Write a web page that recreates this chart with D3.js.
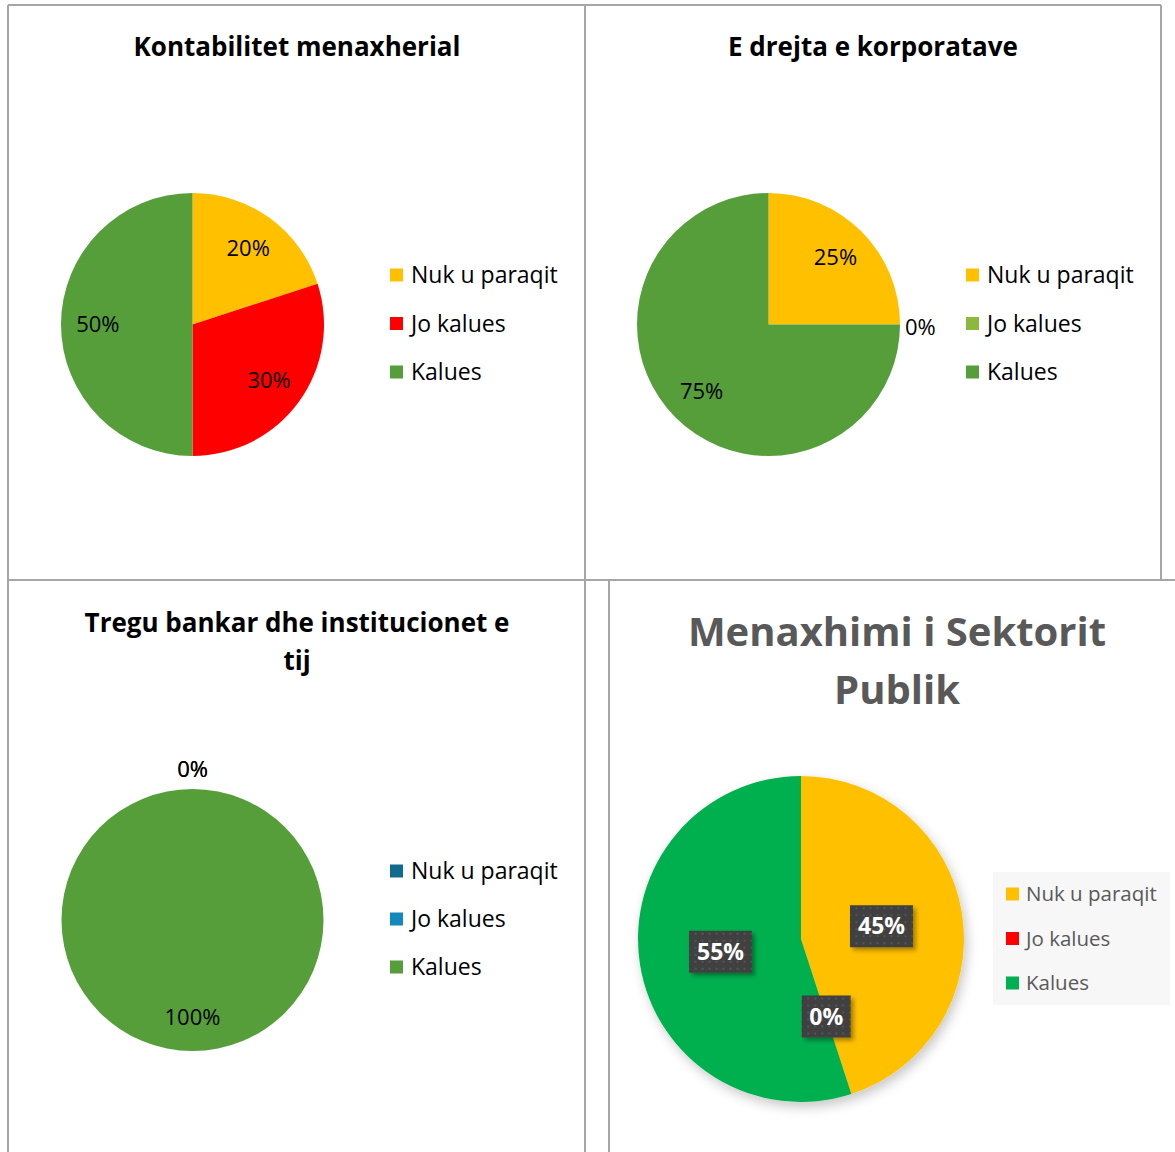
<!DOCTYPE html>
<html>
<head>
<meta charset="utf-8">
<script src="https://cdn.jsdelivr.net/npm/d3@7"></script>
<style>
  body { margin: 0; background: #fff; }
  svg text { font-family: "Open Sans", "Noto Sans", sans-serif; }
</style>
</head>
<body>
<svg id="chart" width="1175" height="1152"></svg>
<script>
// categories shared by all four pies
const categories = ["Nuk u paraqit", "Jo kalues", "Kalues"];

// values (percent) for each subject
const kontabilitetValues = [20, 30, 50];
const drejtaValues = [25, 0, 75];
const treguValues = [0, 0, 100];
const menaxhimiValues = [45, 0, 55];

// titles
const titles = [
  ["Kontabilitet menaxherial"],
  ["E drejta e korporatave"],
  ["Tregu bankar dhe institucionet e", "tij"],
  ["Menaxhimi i Sektorit", "Publik"]
];

const svg = d3.select("#chart");
const defs = svg.append("defs");

// soft shadow for the last pie
const sh = defs.append("filter").attr("id", "pieShadow")
  .attr("x", "-20%").attr("y", "-20%").attr("width", "140%").attr("height", "140%");
sh.append("feDropShadow").attr("dx", 3).attr("dy", 5).attr("stdDeviation", 6)
  .attr("flood-color", "#000").attr("flood-opacity", 0.22);

const bs = defs.append("filter").attr("id", "boxShadow")
  .attr("x", "-30%").attr("y", "-30%").attr("width", "160%").attr("height", "160%");
bs.append("feDropShadow").attr("dx", 3).attr("dy", 3).attr("stdDeviation", 2)
  .attr("flood-color", "#000").attr("flood-opacity", 0.35);

// dotted texture on the label boxes
const pat = defs.append("pattern").attr("id", "dots")
  .attr("width", 7).attr("height", 7).attr("patternUnits", "userSpaceOnUse");
pat.append("rect").attr("width", 7).attr("height", 7).attr("fill", "#404040");
pat.append("rect").attr("x", 2).attr("y", 2).attr("width", 2).attr("height", 2).attr("fill", "#555");

// panel borders
const lines = [
  [8, 5, 1161, 5], [8, 5, 8, 1152], [585, 5, 585, 1152], [1161, 5, 1161, 580],
  [8, 580, 1175, 580], [609, 581, 609, 1152]
];
svg.append("g").selectAll("line").data(lines).join("line")
  .attr("x1", d => d[0]).attr("y1", d => d[1]).attr("x2", d => d[2]).attr("y2", d => d[3])
  .attr("stroke", "#a6a6a6").attr("stroke-width", 2);

const pie = d3.pie().sort(null).value(d => d);

function drawPie(o) {
  const g = svg.append("g");
  const color = d3.scaleOrdinal().domain(categories).range(o.colors);

  // title
  g.append("text")
    .attr("x", o.tx).attr("y", o.ty)
    .attr("text-anchor", "middle")
    .attr("font-size", o.titleSize).attr("font-weight", "bold")
    .attr("fill", o.titleColor)
    .selectAll("tspan").data(o.title).join("tspan")
    .attr("x", o.tx).attr("dy", (d, i) => i === 0 ? 0 : o.titleGap)
    .text(d => d);

  const arcs = pie(o.values);
  const arc = d3.arc().innerRadius(0).outerRadius(o.r);
  const labelArc = d3.arc().innerRadius(o.r * o.labelK).outerRadius(o.r * o.labelK);

  const pg = g.append("g").attr("transform", `translate(${o.cx},${o.cy})`);
  const slices = pg.append("g");
  if (o.shadow) slices.attr("filter", "url(#pieShadow)");
  slices.selectAll("path").data(arcs).join("path")
    .attr("d", arc)
    .attr("fill", (d, i) => color(categories[i]));

  // data labels
  arcs.forEach((d, i) => {
    const txt = d.data + "%";
    if (o.boxed) {
      const [x, y] = labelArc.centroid(d);
      const w = txt.length > 2 ? 63 : 49;
      const lg = pg.append("g").attr("transform", `translate(${x},${y})`);
      lg.append("rect").attr("x", -w / 2).attr("y", -21).attr("width", w).attr("height", 42)
        .attr("fill", "url(#dots)").attr("filter", "url(#boxShadow)");
      lg.append("text").attr("text-anchor", "middle").attr("dy", "0.35em")
        .attr("font-size", 23).attr("font-weight", "bold").attr("fill", "#fff")
        .text(txt);
      return;
    }
    let x, y, anchor = "middle";
    if (d.data === 0) {
      const a = d.startAngle;
      const sx = Math.sin(a), cy = -Math.cos(a);
      if (Math.abs(sx) > 0.5) {
        x = (o.r + 5) * Math.sign(sx); y = cy * o.r + 3;
        anchor = sx > 0 ? "start" : "end";
      } else {
        x = sx * (o.r + 20); y = cy * (o.r + 20);
      }
    } else {
      [x, y] = labelArc.centroid(d);
    }
    pg.append("text").attr("x", x).attr("y", y).attr("dy", "0.35em")
      .attr("text-anchor", anchor).attr("font-size", 22).attr("fill", "#000")
      .text(txt);
  });

  // legend
  const lg = g.append("g");
  if (o.legendBg) {
    lg.append("rect").attr("x", o.lx - 13).attr("y", o.ly - 22).attr("width", 177).attr("height", 133)
      .attr("fill", "#f7f7f7");
  }
  const rows = lg.selectAll("g").data(categories).join("g")
    .attr("transform", (d, i) => `translate(${o.lx},${o.ly + i * o.lstep})`);
  rows.append("rect").attr("x", 0).attr("y", -6.5).attr("width", 13).attr("height", 13)
    .attr("fill", d => color(d));
  rows.append("text").attr("x", o.ltx).attr("dy", "0.35em")
    .attr("font-size", o.legendSize).attr("fill", o.legendColor)
    .text(d => d);
}

drawPie({
  values: kontabilitetValues, title: titles[0],
  colors: ["#ffc000", "#ff0000", "#559e3a"],
  cx: 192.5, cy: 324.5, r: 131.5, labelK: 0.72,
  tx: 297, ty: 56, titleSize: 26, titleColor: "#000", titleGap: 38,
  lx: 390, ly: 275, lstep: 48.5, ltx: 21, legendSize: 23, legendColor: "#000"
});

drawPie({
  values: drejtaValues, title: titles[1],
  colors: ["#ffc000", "#8cb83c", "#559e3a"],
  cx: 768.5, cy: 324.5, r: 131.5, labelK: 0.72,
  tx: 873, ty: 56, titleSize: 26, titleColor: "#000", titleGap: 38,
  lx: 966, ly: 275, lstep: 48.5, ltx: 21, legendSize: 23, legendColor: "#000"
});

drawPie({
  values: treguValues, title: titles[2],
  colors: ["#106b8f", "#1189ba", "#559e3a"],
  cx: 192.5, cy: 920, r: 131, labelK: 0.74,
  tx: 297, ty: 632, titleSize: 26, titleColor: "#000", titleGap: 38,
  lx: 390, ly: 871, lstep: 48, ltx: 21, legendSize: 23, legendColor: "#000"
});

drawPie({
  values: menaxhimiValues, title: titles[3],
  colors: ["#ffc000", "#ff0000", "#00b050"],
  cx: 801, cy: 939, r: 163, labelK: 0.5, boxed: true, shadow: true,
  tx: 897, ty: 646, titleSize: 40, titleColor: "#595959", titleGap: 58,
  lx: 1006, ly: 894, lstep: 44.5, ltx: 20, legendSize: 20.5, legendColor: "#595959", legendBg: true
});
</script>
</body>
</html>
